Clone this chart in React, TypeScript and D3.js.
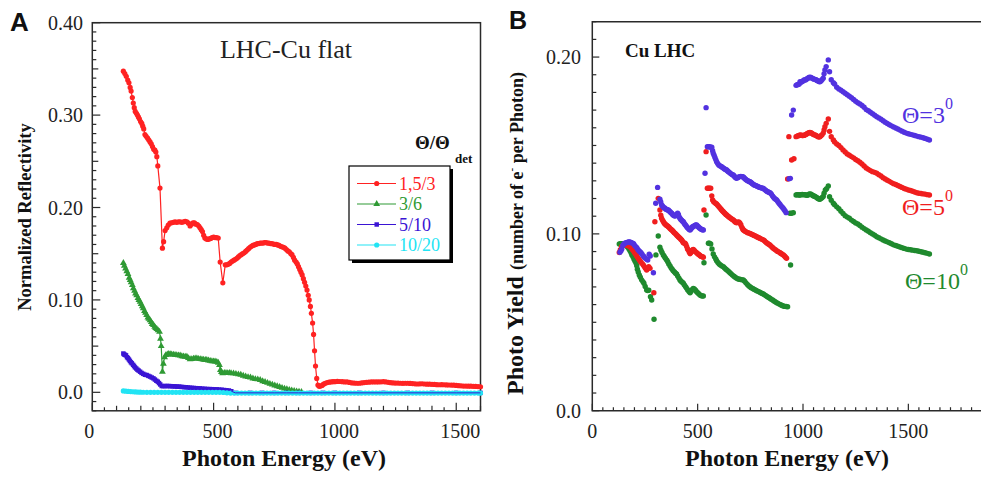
import React from 'react';
import * as d3 from 'd3';

type P = [number, number];

// ---------- Panel A: normalized reflectivity (photon energy eV, reflectivity) ----------
const aRed: P[] = [
  [128,.3475],[134,.345],[140,.342],[146,.338],[151,.335],[156,.330],[160,.326],[165,.319],[169,.313],[173,.308],
  [177,.304],[182,.302],[186,.300],[190,.298],[194,.296],[199,.293],[204,.291],[208,.288],[212,.285],[217,.279],
  [222,.277],[228,.275],[233,.273],[238,.271],[243,.269],[248,.266],[253,.263],[258,.262],[262,.260],[266,.255],
  [270,.245],[279,.221],[289,.156],[294,.163],[300,.175],[307,.178],[313,.181],[320,.183],[327,.1835],[334,.184],
  [341,.1845],[348,.184],[355,.1845],[362,.1845],[369,.184],[376,.1845],[383,.185],[390,.1845],[396,.183],[403,.180],
  [409,.182],[415,.1835],[421,.1835],[427,.182],[433,.1815],[439,.180],[444,.178],[449,.176],[454,.174],[459,.170],
  [464,.167],[470,.166],[476,.1655],[482,.166],[488,.1665],[494,.1675],[500,.168],[506,.1675],[512,.1675],[519,.167],
  [527,.141],[538,.1185],[548,.138],[554,.138],[560,.1385],[566,.1395],[572,.141],[578,.142],[584,.143],[590,.144],
  [596,.145],[602,.1465],[608,.148],[614,.149],[620,.150],[626,.151],[632,.1525],[638,.154],[644,.1555],[650,.157],
  [656,.158],[662,.159],[668,.1595],[674,.160],[680,.161],[686,.161],[692,.1615],[698,.1615],[704,.1615],[710,.162],
  [716,.162],[722,.1615],[728,.1615],[734,.161],[740,.161],[746,.1605],[752,.160],[758,.160],[764,.1595],[770,.159],
  [776,.158],[782,.1575],[788,.157],[794,.156],[800,.1545],[806,.153],[812,.152],[818,.150],[823,.149],[829,.146],
  [834,.143],[840,.141],[845,.139],[850,.136],[855,.133],[860,.130],[865,.127],[870,.123],[875,.119],[880,.115],
  [885,.1107],[890,.105],[894,.100],[899,.093],[903,.0855],[908,.075],[912,.0627],[916,.045],[920,.0285],[925,.015],
  [930,.0079],[935,.0065],[941,.0068],[947,.0075],[953,.0088],[960,.0097],[968,.0105],[976,.011],[984,.0112],[992,.0115],
  [1000,.0115],[1010,.0118],[1020,.0117],[1030,.0115],[1040,.0113],[1050,.0112],[1060,.0107],[1070,.0102],[1080,.0100],[1090,.0098],
  [1100,.0098],[1110,.0102],[1120,.0105],[1130,.0108],[1140,.0110],[1150,.0112],[1160,.0113],[1170,.0112],[1180,.0113],[1190,.0114],
  [1200,.0115],[1210,.0112],[1220,.0108],[1230,.0104],[1240,.0102],[1250,.0100],[1260,.0100],[1270,.0098],[1280,.0097],[1290,.0098],
  [1300,.0098],[1310,.0096],[1320,.0095],[1330,.0092],[1340,.0090],[1350,.0092],[1360,.0093],[1370,.0090],[1380,.0088],[1390,.0088],
  [1400,.0087],[1410,.0085],[1420,.0083],[1430,.0082],[1440,.0083],[1450,.0082],[1460,.0080],[1470,.0079],[1480,.0078],[1490,.0077],
  [1500,.0075],[1510,.0072],[1520,.0070],[1530,.0068],[1540,.0068],[1550,.0067],[1560,.0066],[1570,.0065],[1580,.0064],[1590,.0062],
  [1600,.0060],
];
const aGreen: P[] = [
  [128,.140],[132,.137],[137,.134],[142,.131],[147,.128],[152,.124],[156,.1215],[160,.119],[165,.116],[169,.1125],
  [174,.110],[178,.107],[183,.105],[188,.102],[192,.100],[197,.098],[201,.0955],[206,.093],[210,.091],[215,.088],
  [219,.086],[224,.0836],[229,.081],[233,.0795],[238,.078],[243,.076],[247,.074],[252,.0728],[257,.071],[261,.0695],
  [266,.0685],[271,.067],[277,.0656],[281,.058],[284,.050],[289,.0223],[293,.031],[298,.038],[303,.0403],[309,.041],
  [315,.0415],[321,.0414],[327,.041],[334,.0408],[341,.0405],[348,.0403],[355,.040],[362,.0398],[369,.039],[376,.0388],
  [383,.0385],[390,.0385],[396,.037],[403,.0358],[410,.036],[417,.0365],[424,.0367],[431,.0367],[438,.0362],[445,.036],
  [452,.0357],[459,.0353],[466,.035],[472,.035],[479,.0345],[486,.034],[493,.0337],[500,.0335],[506,.0333],[513,.033],
  [519,.032],[524,.0295],[528,.024],[532,.022],[537,.0205],[544,.021],[551,.021],[558,.0208],[565,.021],[572,.0207],
  [582,.0205],[592,.020],[602,.0195],[612,.019],[622,.018],[632,.0172],[642,.0165],[652,.016],[662,.015],[672,.0143],
  [682,.014],[692,.0133],[702,.012],[712,.0112],[722,.0103],[732,.0092],[742,.0083],[752,.0074],[762,.0066],[772,.0058],
  [782,.0048],[792,.004],[802,.0033],[812,.0027],[822,.002],[832,.0015],[842,.001],[852,.0006],[862,.0003],
];
const aBlue: P[] = [
  [128,.042],[131,.041],[135,.0405],[139,.040],[143,.038],[147,.037],[151,.0355],[155,.034],[159,.0325],[163,.0314],
  [168,.0298],[172,.0285],[176,.027],[181,.0258],[186,.0245],[191,.0235],[197,.0223],[203,.021],[210,.020],[217,.019],
  [224,.0187],[231,.0178],[238,.017],[245,.016],[252,.0151],[258,.0138],[264,.0125],[270,.0115],[275,.010],[280,.0085],
  [286,.0068],[293,.0067],[300,.0068],[307,.0068],[314,.0068],[321,.0067],[328,.0066],[335,.0065],[342,.0064],[349,.0062],
  [356,.0061],[362,.006],[370,.0058],[378,.0056],[386,.0055],[394,.0052],[402,.005],[410,.0048],[418,.0047],[426,.0045],
  [434,.0044],[444,.0043],[454,.004],[464,.0038],[474,.0036],[484,.0035],[494,.0034],[504,.0033],[513,.0032],[523,.003],
  [533,.0028],[543,.0025],[553,.0022],[563,.002],[573,.0012],[590,-.0006],[650,-.0006],[700,-.0006],[750,-.0006],[800,-.0006],
  [850,-.0006],[900,-.0006],[950,-.0006],[1000,-.0006],[1100,-.0006],[1200,-.0006],[1300,-.0006],[1400,-.0006],[1500,-.0006],[1600,-.0006],
];
const aCyan: P[] = [
  [128,.0015],[138,.0012],[148,.001],[158,.0008],[168,.0006],[178,.0004],[188,.0003],[198,.0002],[210,.0001],[225,0],
  [240,0],[255,0],[270,0],[285,0],[300,0],[315,0],[330,0],[345,0],[360,0],[375,0],
  [390,0],[405,0],[420,0],[435,0],[450,0],[465,0],[480,0],[495,0],[510,0],[525,0],
  [540,-.0002],[555,-.0005],[570,-.0008],[585,-.0008],[600,-.0008],[615,-.0008],[630,-.0008],[645,-.0008],[660,-.0008],[675,-.0008],
  [690,-.0008],[705,-.0008],[720,-.0008],[735,-.0008],[750,-.0008],[765,-.0008],[780,-.0008],[795,-.0008],[810,-.0008],[825,-.0008],
  [840,-.0008],[855,-.0008],[870,-.0008],[885,-.0008],[900,-.0008],[915,-.0008],[930,-.0008],[945,-.0008],[960,-.0008],[975,-.0008],
  [990,-.0008],[1005,-.0008],[1020,-.0008],[1035,-.0008],[1050,-.0008],[1065,-.0008],[1080,-.0008],[1095,-.0008],[1110,-.0008],[1125,-.0008],
  [1140,-.0008],[1155,-.0008],[1170,-.0008],[1185,-.0008],[1200,-.0008],[1215,-.0008],[1230,-.0008],[1245,-.0008],[1260,-.0008],[1275,-.0008],
  [1290,-.0008],[1305,-.0008],[1320,-.0008],[1335,-.0008],[1350,-.0008],[1365,-.0008],[1380,-.0008],[1395,-.0008],[1410,-.0008],[1425,-.0008],
  [1440,-.0008],[1455,-.0008],[1470,-.0008],[1485,-.0008],[1500,-.0008],[1515,-.0008],[1530,-.0008],[1545,-.0008],[1560,-.0008],[1575,-.0008],
  [1590,-.0008],[1600,-.0008],
];

// ---------- Panel B: photo yield (photon energy eV, e- per photon) ----------
const bBlue: P[] = [
  [131,.0896],[136,.0905],[140,.0915],[145,.0935],[150,.0943],[155,.0948],[160,.095],[166,.0952],[171,.0954],[176,.0954],
  [181,.0953],[186,.095],[191,.0948],[196,.0944],[201,.0935],[206,.0928],[211,.0922],[216,.0912],[221,.0905],[226,.0899],
  [231,.0893],[236,.0885],[242,.0875],[247,.0868],[252,.0862],[258,.0856],[263,.0852],[270,.0885],[275,.0875],[290,.078],
  [301,.1173],[310,.1263],[321,.1196],[325,.118],[329,.1163],[333,.1158],[337,.115],[341,.1148],[345,.1145],[349,.114],
  [353,.1138],[357,.1135],[361,.1135],[365,.113],[369,.1125],[373,.112],[377,.1117],[381,.111],[385,.1105],[389,.1102],
  [393,.1101],[397,.1105],[401,.1112],[405,.1117],[409,.1108],[413,.1095],[416,.1088],[420,.1082],[424,.1077],[428,.1072],
  [432,.1069],[436,.106],[440,.1053],[444,.1047],[448,.1041],[452,.1035],[456,.103],[460,.1025],[464,.1022],[468,.1028],
  [472,.1035],[476,.104],[479,.1041],[483,.1045],[487,.1048],[491,.105],[495,.105],[499,.1045],[503,.104],[507,.1035],
  [511,.1032],[515,.1028],[519,.1025],[523,.1023],[527,.1022],
  [535,.1343],[540,.1714],[546,.1493],[551,.1493],[556,.1493],[562,.149],[567,.149],[571,.147],[574,.1456],[578,.1445],
  [582,.1432],[586,.142],[590,.1408],[595,.1398],[600,.139],[605,.1386],[610,.1382],[614,.138],[618,.1376],[622,.1372],
  [626,.1369],[630,.1366],[634,.1363],[638,.1361],[642,.1356],[646,.1352],[650,.1348],[655,.1343],[660,.1338],[665,.1335],
  [669,.1333],[673,.1328],[677,.1322],[681,.1317],[685,.1314],[690,.1318],[695,.1322],[700,.1324],[705,.1325],[710,.1324],
  [714,.1323],[718,.132],[722,.1315],[726,.131],[730,.1306],[735,.1302],[740,.1299],[744,.1296],[748,.1295],[752,.1292],
  [756,.1288],[760,.1284],[764,.128],[768,.1277],[772,.1275],[776,.1273],[780,.1271],[785,.1268],[790,.1265],[795,.1263],
  [800,.1261],[805,.1259],[810,.1258],[815,.1254],[820,.1249],[825,.1244],[830,.124],[835,.1237],[840,.1234],[845,.1231],
  [850,.1225],[855,.1215],[860,.1207],[865,.12],[870,.1196],[875,.1192],[880,.1183],[885,.1175],[890,.1168],[895,.116],
  [900,.1153],[905,.1146],[910,.1138],[915,.113],[920,.112],
  [934,.1312],[940,.1314],[946,.1672],[954,.170],[967,.184],[972,.1843],[977,.1845],[982,.1848],[986,.186],[991,.1858],
  [996,.1862],[1000,.1865],[1005,.187],[1009,.187],[1014,.1872],[1019,.1878],[1024,.188],[1028,.1884],[1033,.1886],[1038,.1884],
  [1043,.188],[1048,.1878],[1052,.1875],[1057,.1874],[1062,.1872],[1066,.1868],[1071,.1865],[1076,.1862],[1080,.186],[1085,.1865],
  [1090,.1872],[1096,.188],[1100,.1905],[1104,.1927],[1110,.1946],[1120,.1984],[1126,.1917],[1134,.1872],[1144,.1855],[1150,.1848],
  [1160,.1829],[1170,.182],[1180,.1812],[1190,.1804],[1200,.1795],[1210,.1787],[1220,.1778],[1230,.177],[1240,.176],[1250,.175],
  [1260,.1742],[1270,.1735],[1280,.1726],[1290,.1716],[1300,.1703],[1310,.1696],[1320,.1688],[1330,.168],[1340,.1671],[1350,.1663],
  [1360,.1656],[1370,.1648],[1380,.164],[1390,.1631],[1400,.1624],[1410,.1617],[1420,.1611],[1430,.1605],[1440,.1599],[1450,.1593],
  [1460,.1587],[1470,.1581],[1480,.1575],[1490,.157],[1500,.1566],[1510,.1563],[1520,.156],[1530,.1556],[1540,.1553],[1550,.155],
  [1560,.1547],[1570,.1544],[1580,.154],[1590,.1535],[1600,.1531],
];
const bRed: P[] = [
  [128,.0895],[133,.091],[139,.0928],[145,.0933],[151,.0937],[157,.0937],[163,.0937],[169,.0934],[174,.093],[179,.0928],
  [184,.092],[190,.0912],[195,.0905],[200,.0895],[206,.0885],[211,.0875],[216,.0866],[221,.0857],[226,.0848],[231,.084],
  [237,.0832],[242,.0824],[247,.0815],[252,.0805],[258,.0796],[262,.0805],[268,.0815],[274,.0805],[292,.0667],
  [297,.1069],[313,.1201],[321,.1135],[325,.1105],[329,.1088],[333,.1078],[337,.107],[341,.1062],[345,.1056],[349,.1052],
  [353,.1048],[357,.1045],[361,.1041],[365,.1036],[369,.103],[373,.1026],[377,.1022],[381,.1018],[385,.1012],[389,.1007],
  [393,.1003],[397,.0998],[401,.0992],[405,.0988],[408,.0984],[412,.098],[416,.0975],[420,.097],[424,.0966],[428,.0958],
  [432,.095],[436,.0948],[440,.0947],[444,.094],[448,.0928],[452,.0915],[456,.0909],[460,.0898],[464,.0888],[468,.0895],
  [472,.0903],[476,.0909],[479,.0912],[483,.0908],[487,.0902],[491,.0897],[495,.0894],[499,.0889],[503,.0885],[507,.0882],
  [511,.0878],[515,.0874],[519,.0872],[523,.087],[527,.0868],
  [530,.1135],[540,.1465],[546,.1258],[551,.1258],[556,.1258],[562,.1258],[567,.1215],[571,.1192],[576,.1182],[581,.1177],
  [586,.1172],[590,.1169],[595,.1162],[600,.1155],[605,.1148],[610,.1141],[614,.1135],[618,.113],[622,.1125],[626,.112],
  [630,.1115],[634,.111],[638,.1107],[642,.1102],[646,.1098],[650,.1094],[655,.109],[660,.1086],[665,.1082],[669,.1079],
  [673,.1074],[677,.1069],[681,.1066],[685,.1063],[690,.1066],[695,.1068],[700,.1062],[705,.1052],[710,.1037],[714,.1028],
  [717,.1022],[722,.1018],[727,.1014],[732,.101],[737,.1007],[742,.1005],[748,.1003],[753,.1],[758,.0997],[763,.0994],
  [768,.0991],[774,.0988],[780,.0984],[785,.0981],[790,.0978],[795,.0975],[800,.0972],[806,.0969],[812,.0966],[817,.0961],
  [822,.0955],[827,.095],[832,.0946],[837,.0941],[843,.0937],[848,.0931],[854,.0925],[859,.0919],[864,.0914],[869,.091],
  [875,.0905],[880,.0901],[886,.0897],[891,.0893],[896,.0889],[901,.0885],[907,.0881],[912,.0875],[917,.0868],[922,.0862],
  [927,.131],[933,.155],[946,.1418],[957,.1425],[967,.155],[972,.1553],[977,.1555],[982,.1556],[986,.156],[991,.1558],
  [996,.1556],[1000,.1556],[1005,.1557],[1009,.156],[1014,.1562],[1019,.1566],[1024,.157],[1028,.1572],[1033,.1573],[1038,.1572],
  [1043,.1568],[1048,.1564],[1052,.156],[1057,.156],[1062,.1557],[1066,.1553],[1071,.155],[1076,.1548],[1080,.155],[1085,.1555],
  [1090,.156],[1096,.157],[1100,.1588],[1104,.1606],[1110,.1625],[1120,.165],[1126,.158],[1134,.155],[1144,.1531],[1150,.152],
  [1160,.1508],[1170,.15],[1180,.1488],[1190,.1475],[1200,.1463],[1210,.1452],[1220,.1445],[1230,.1437],[1240,.143],[1250,.1421],
  [1260,.1414],[1270,.1405],[1280,.1395],[1290,.1384],[1300,.1373],[1310,.1365],[1320,.1358],[1330,.1352],[1340,.1348],[1350,.1343],
  [1360,.1335],[1370,.1327],[1380,.1318],[1390,.131],[1400,.1303],[1410,.1297],[1420,.129],[1430,.1284],[1440,.1279],[1450,.1274],
  [1460,.1268],[1470,.1263],[1480,.1257],[1490,.1253],[1500,.1248],[1510,.1245],[1520,.1241],[1530,.1237],[1540,.1233],[1550,.123],
  [1560,.1228],[1570,.1226],[1580,.1225],[1590,.1222],[1600,.122],
];
const bGreen: P[] = [
  [128,.0943],[134,.0945],[140,.0945],[147,.0943],[152,.094],[157,.0935],[163,.0932],[168,.0925],[174,.0915],[179,.0905],
  [184,.0893],[188,.0881],[193,.087],[198,.0856],[203,.0845],[208,.0834],[211,.082],[214,.08],[218,.0785],[223,.0768],
  [228,.0755],[234,.074],[240,.073],[245,.0721],[251,.0702],[258,.0683],[263,.068],[268,.0681],[276,.0645],[282,.0626],
  [293,.0517],
  [302,.0881],[313,.0988],[321,.0924],[326,.0908],[331,.0895],[337,.0881],[342,.0872],[347,.0862],[353,.0852],[358,.0842],
  [363,.083],[369,.0818],[374,.0808],[379,.08],[384,.0792],[390,.0785],[395,.0778],[400,.0773],[405,.0762],[411,.075],
  [416,.0739],[421,.0732],[427,.0727],[432,.0721],[437,.0711],[443,.0701],[448,.0692],[453,.0683],[459,.0674],[464,.0667],
  [469,.0675],[474,.0685],[479,.0692],[484,.0688],[490,.0681],[495,.0673],[500,.0667],[505,.0661],[511,.0654],[516,.0651],
  [521,.0649],[527,.0649],
  [530,.0837],[540,.1107],[551,.0947],[556,.0947],[562,.0943],[568,.0915],[574,.0886],[580,.087],[586,.0858],[590,.0848],
  [596,.0838],[602,.083],[608,.0824],[615,.0819],[622,.0814],[628,.0807],[634,.08],[640,.0794],[647,.0787],[653,.078],
  [659,.0774],[665,.0767],[672,.0761],[678,.0755],[685,.0749],[692,.0745],[698,.0743],[704,.0742],[711,.074],[717,.0739],
  [723,.0732],[729,.0723],[736,.0714],[742,.0707],[748,.0701],[754,.0696],[761,.0691],[767,.0687],[774,.0683],[780,.0679],
  [786,.0675],[793,.0671],[799,.0667],[806,.0663],[812,.066],[818,.0655],[824,.065],[831,.0645],[837,.064],[843,.0636],
  [849,.0631],[856,.0626],[862,.0621],[868,.0616],[875,.0611],[881,.0607],[887,.0603],[894,.0599],[900,.0595],[907,.0592],
  [913,.059],[920,.0589],[927,.0588],[941,.0824],
  [938,.1117],[946,.1117],[954,.112],[967,.122],[972,.1222],[977,.1221],[982,.122],[986,.122],[991,.1222],[996,.1223],
  [1000,.1222],[1005,.1222],[1009,.1222],[1014,.122],[1019,.1218],[1024,.122],[1028,.1224],[1033,.1226],[1038,.1224],[1043,.122],
  [1048,.1216],[1052,.1214],[1057,.1212],[1062,.1208],[1066,.1204],[1071,.12],[1076,.1197],[1080,.1196],[1085,.12],[1090,.1205],
  [1096,.1212],[1100,.123],[1106,.1248],[1112,.1255],[1120,.1271],[1126,.121],[1134,.119],[1144,.1173],[1150,.1165],[1160,.1153],
  [1170,.1142],[1180,.1128],[1190,.1115],[1200,.1103],[1210,.1095],[1220,.1088],[1230,.1078],[1240,.107],[1250,.1062],[1260,.1056],
  [1270,.1048],[1280,.1038],[1290,.103],[1300,.1022],[1310,.1015],[1320,.1007],[1330,.1],[1340,.0992],[1350,.0984],[1360,.0978],
  [1370,.0972],[1380,.0965],[1390,.096],[1400,.0955],[1410,.095],[1420,.0944],[1430,.0938],[1440,.0934],[1450,.093],[1460,.0926],
  [1470,.0922],[1480,.0918],[1490,.0914],[1500,.0912],[1510,.091],[1520,.0908],[1530,.0906],[1540,.0905],[1550,.0902],[1560,.0899],
  [1570,.0896],[1580,.0893],[1590,.089],[1600,.0886],
];

// ---------- tick labels & legend text ----------
const aXTicks = [0, 500, 1000, 1500];
const aYTicks = [0, 0.1, 0.2, 0.3, 0.4];
const aYTickLabels = ['0.0', '0.10', '0.20', '0.30', '0.40'];
const bXTicks = [0, 500, 1000, 1500];
const bYTicks = [0, 0.1, 0.2];
const bYTickLabels = ['0.0', '0.10', '0.20'];
const legendLabels = ['1,5/3', '3/6', '5/10', '10/20'];
const angleLabels = ['3', '5', '10'];

const SERIF = '"Liberation Serif", "Times New Roman", serif';
const SANS = '"Liberation Sans", Arial, sans-serif';
const AX = '#2a2a2a';

const aColors = ['#ff2222', '#2f9a34', '#3a14d4', '#22e4f4'];
const bColors = ['#5232e0', '#f01e1e', '#1f8a2e'];

export default function App() {
  const ax = d3.scaleLinear().domain([0, 1600]).range([92.3, 480.5]);
  const ay = d3.scaleLinear().domain([-0.02, 0.4]).range([410.8, 22.7]);
  const bx = d3.scaleLinear().domain([0, 1850]).range([592.3, 982.1]);
  const by = d3.scaleLinear().domain([0, 0.22]).range([410.7, 21.7]);

  const lineA = d3.line<P>().x(d => ax(d[0])).y(d => ay(d[1]));
  const tri = d3.symbol(d3.symbolTriangle, 20)() as string;
  const sq = d3.symbol(d3.symbolSquare, 20)() as string;

  const aSeries = [aRed, aGreen, aBlue, aCyan];
  const marker = (i: number, x: number, y: number, key: any, color: string) => {
    if (i === 1) return <path key={key} d={tri} transform={`translate(${x},${y})`} fill={color} />;
    if (i === 2) return <path key={key} d={sq} transform={`translate(${x},${y})`} fill={color} />;
    return <circle key={key} cx={x} cy={y} r={2.6} fill={color} />;
  };

  // axis ticks (positions from scales)
  const aXMinor = d3.range(0, 33).map(i => i * 50);
  const aYMinor = d3.range(-2, 41).map(i => i);
  const bXMinor = d3.range(0, 38).map(i => i * 50);
  const bYMinor = d3.range(0, 23).map(i => i);

  const aBottom = ay(-0.02);
  const aLeft = ax(0);
  const bBottom = by(0);
  const bLeft = bx(0);

  return (
    <svg width={981} height={479} style={{ position: 'absolute', left: 0, top: 0, background: '#fff' }}
      xmlns="http://www.w3.org/2000/svg">
      <rect x={0} y={0} width={981} height={479} fill="#fff" />

      {/* ================= Panel A ================= */}
      <text x={10} y={31} fontFamily={SANS} fontWeight="bold" fontSize={26} fill="#111">A</text>
      <rect x={aLeft} y={ay(0.4)} width={ax(1600) - aLeft} height={aBottom - ay(0.4)} fill="none" stroke={AX} strokeWidth={1.5} />
      {aXMinor.map(v => {
        const len = v % 500 === 0 ? 8 : v % 100 === 0 ? 5 : 3.5;
        return <line key={'axt' + v} x1={ax(v)} x2={ax(v)} y1={aBottom} y2={aBottom - len} stroke={AX} strokeWidth={1.2} />;
      })}
      {aYMinor.map(i => {
        const len = i % 10 === 0 ? 8 : i % 5 === 0 ? 6 : 4;
        return <line key={'ayt' + i} x1={aLeft} x2={aLeft + len} y1={ay(i / 100)} y2={ay(i / 100)} stroke={AX} strokeWidth={1.2} />;
      })}
      {aXTicks.map(v => (
        <text key={'axl' + v} x={ax(v) + (v === 0 ? -3 : 4)} y={438} textAnchor="middle" fontFamily={SERIF} fontSize={20} fill="#222">{v}</text>
      ))}
      {aYTicks.map((v, i) => (
        <text key={'ayl' + v} x={83} y={ay(v) + 7} textAnchor="end" fontFamily={SERIF} fontSize={20} fill="#222">{aYTickLabels[i]}</text>
      ))}
      <text x={284} y={466} textAnchor="middle" fontFamily={SERIF} fontWeight="bold" fontSize={24} fill="#111">Photon Energy (eV)</text>
      <text transform="translate(31,217) rotate(-90)" textAnchor="middle" fontFamily={SERIF} fontWeight="bold" fontSize={18.5} fill="#111">Normalized Reflectivity</text>
      <text x={286} y={58} textAnchor="middle" fontFamily={SERIF} fontSize={26} fill="#222">LHC-Cu flat</text>

      {aSeries.map((s, i) => (
        <g key={'as' + i}>
          <path d={lineA(s) as string} fill="none" stroke={aColors[i]} strokeWidth={1.2} />
          {s.map((d, j) => marker(i, ax(d[0]), ay(d[1]), j, aColors[i]))}
        </g>
      ))}
      <path d={lineA(aBlue.filter(d => d[0] >= 573)) as string} fill="none" stroke={aColors[2]} strokeWidth={1} />

      {/* legend */}
      <text x={415} y={149} fontFamily={SERIF} fontWeight="bold" fontSize={19} fill="#111">Θ/Θ</text>
      <text x={455} y={163} fontFamily={SERIF} fontWeight="bold" fontSize={13} fill="#111">det</text>
      <rect x={352} y={169} width={101} height={94} fill="#000" />
      <rect x={349} y={166} width={101} height={94} fill="#fff" stroke="#000" strokeWidth={1.2} />
      {legendLabels.map((lab, i) => {
        const yy = 183.5 + i * 20.5;
        return (
          <g key={'lg' + i}>
            <line x1={357} x2={396} y1={yy} y2={yy} stroke={aColors[i]} strokeWidth={1.2} />
            {marker(i, 376.7, yy, 'm', aColors[i])}
            <text x={399} y={yy + 6} fontFamily={SERIF} fontSize={18} fill={aColors[i]}>{lab}</text>
          </g>
        );
      })}

      {/* ================= Panel B ================= */}
      <text x={509} y={29} fontFamily={SANS} fontWeight="bold" fontSize={25} fill="#111">B</text>
      <path d={`M${bx(1850)},${by(0.22)}H${bLeft}V${bBottom}H${bx(1850)}`} fill="none" stroke={AX} strokeWidth={1.5} />
      {bXMinor.map(v => {
        const len = v % 500 === 0 ? 7 : 3.5;
        return <line key={'bxt' + v} x1={bx(v)} x2={bx(v)} y1={bBottom} y2={bBottom - len} stroke={AX} strokeWidth={1.2} />;
      })}
      {bYMinor.map(i => {
        const len = i % 10 === 0 ? 7 : 4;
        return <line key={'byt' + i} x1={bLeft} x2={bLeft + len} y1={by(i / 100)} y2={by(i / 100)} stroke={AX} strokeWidth={1.2} />;
      })}
      {bXTicks.map(v => (
        <text key={'bxl' + v} x={bx(v)} y={438} textAnchor="middle" fontFamily={SERIF} fontSize={20} fill="#222">{v}</text>
      ))}
      {bYTicks.map((v, i) => (
        <text key={'byl' + v} x={581} y={by(v) + 7} textAnchor="end" fontFamily={SERIF} fontSize={20} fill="#222">{bYTickLabels[i]}</text>
      ))}
      <text x={787} y={466} textAnchor="middle" fontFamily={SERIF} fontWeight="bold" fontSize={24} fill="#111">Photon Energy (eV)</text>
      <text transform="translate(523,395) rotate(-90)" fontFamily={SERIF} fontWeight="bold" fill="#111">
        <tspan fontSize={24}>Photo Yield </tspan>
        <tspan fontSize={18}>(number of e</tspan>
        <tspan fontSize={11} dy={-8}>-</tspan>
        <tspan fontSize={18} dy={8}> per Photon)</tspan>
      </text>
      <text x={625} y={57} fontFamily={SERIF} fontWeight="bold" fontSize={19} fill="#111">Cu LHC</text>

      {[bGreen, bRed, bBlue].map((s, k) => {
        const ci = [2, 1, 0][k];
        return (
          <g key={'bs' + k}>
            {s.map((d, j) => <circle key={j} cx={bx(d[0])} cy={by(d[1])} r={2.7} fill={bColors[ci]} />)}
          </g>
        );
      })}

      {angleLabels.map((a, i) => {
        const yy = [123, 215, 289][i];
        const xx = [902, 902, 905][i];
        return (
          <text key={'al' + i} x={xx} y={yy} fontFamily={SERIF} fontSize={24} fill={bColors[i]}>
            Θ={a}<tspan fontSize={16} dy={-14}>0</tspan>
          </text>
        );
      })}
    </svg>
  );
}
